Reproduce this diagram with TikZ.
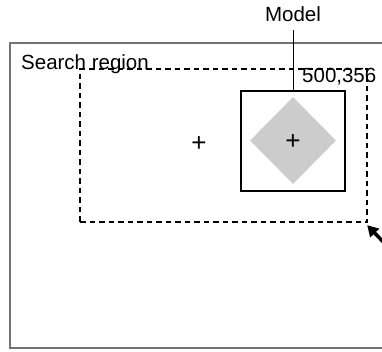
\documentclass[tikz,border=0pt]{standalone}
\usepackage{fontspec}
\setmainfont{Liberation Sans}
\usetikzlibrary{positioning,shapes.geometric,arrows.meta,calc}

\begin{document}
\begin{tikzpicture}[
		x=1pt, y=-1pt,
		lbl/.style={inner sep=0pt, font=\fontsize{20.5}{24}\selectfont},
		region/.style={rectangle, draw=black, line width=1.3pt,
			dash pattern=on 5.5pt off 4pt, minimum width=287pt,
			minimum height=153pt, inner sep=0pt},
		modelbox/.style={rectangle, draw=black, line width=1.3pt,
			minimum width=104pt, minimum height=100pt, inner sep=0pt},
		modelshape/.style={diamond, fill=black!20, minimum width=86pt,
			minimum height=87pt, inner sep=0pt},
		cross/.style={inner sep=0pt, font=\fontsize{26}{28}\selectfont},
		arrow/.style={-{Triangle[length=11pt,width=12pt]}, line width=3.5pt}
		]
		\useasboundingbox (0,0) rectangle (382,351);
		\clip (0,0) rectangle (382,351);
		% camera image frame
		\draw[black!55, line width=2.2pt] (392,43) -- (10,43) -- (10,348) -- (392,348);
		\node[region] (search) at (223.5,145.5) {};
		\node[modelbox] (box) at (293,141) {};
		\node[modelshape] (diam) at (293,140.5) {};
		\node[cross] (c1) at (293,142) {+};
		\node[cross] (c2) at (199,144) {+};
		\node[lbl, anchor=base west] (srlbl) at (21,69) {Search region};
		\node[lbl, anchor=base west] (coord) at (302,82) {500,356};
		\node[lbl, anchor=base] (model) at (293,21) {Model};
		\draw[line width=1pt, shorten <=9pt] (model.south) -- (box.north);
		\coordinate (tail) at (392,251);
		\draw[arrow] (tail) -- ($(search.south east)+(-0.5,2.5)$);
	\end{tikzpicture}
\end{document}
